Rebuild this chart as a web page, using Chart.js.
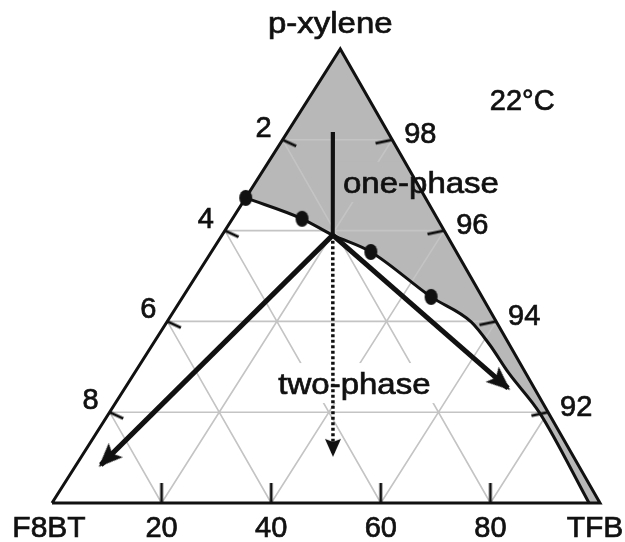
<!DOCTYPE html>
<html>
<head>
<meta charset="utf-8">
<script src="https://cdn.jsdelivr.net/npm/chart.js@4.4.1/dist/chart.umd.min.js"></script>
<style>
  html, body { margin: 0; padding: 0; background: #ffffff; }
  canvas { display: block; }
</style>
</head>
<body>
<canvas id="chart" width="625" height="542"></canvas>
<script>
// ================= DATA =================
// Compositions in wt%: TFB and p-xylene are given, F8BT = 100 - TFB - p-xylene.
const cornerNames = ['F8BT', 'TFB', 'p-xylene'];
const leftTickValues = [2, 4, 6, 8];        // F8BT wt% along F8BT / p-xylene edge
const rightTickValues = [98, 96, 94, 92];   // p-xylene wt% along TFB / p-xylene edge
const bottomTickValues = [20, 40, 60, 80];  // TFB share (%) along F8BT / TFB edge

// phase boundary (one-phase above / two-phase below)
const boundaryTFB = [0.00, 1.27, 2.02, 2.91, 4.53, 5.55, 6.16, 6.82, 7.86, 9.80];
const boundaryPX  = [96.72, 96.26, 95.90, 95.53, 94.54, 93.99, 93.48, 92.87, 91.98, 90.00];

// measured points on the boundary
const measuredTFB = [0.00, 1.27, 2.91, 4.53];
const measuredPX  = [96.72, 96.26, 95.53, 94.54];

// paths (start -> end)
const concentrateTFB = [0.83, 2.02];   const concentratePX = [98.17, 95.90];  // solid vertical line
const arrowLeftTFB   = [2.02, 0.45];   const arrowLeftPX   = [95.90, 90.84];
const arrowRightTFB  = [2.02, 6.99];   const arrowRightPX  = [95.90, 92.53];
const arrowDownTFB   = [2.02, 4.57];   const arrowDownPX   = [95.90, 91.06];

const regionLabels = ['one-phase', 'two-phase'];
const temperatureLabel = '22°C';

// ================= LAYOUT / STYLE =================
const APEX_X = 52.6;  // p-xylene corner position on the 0..100 bottom scale (figure is slightly skewed)
const FONT = '"Liberation Sans", Arial, Helvetica, sans-serif';
const GRID = '#c4c4c4';
const FILL = '#b8b8b8';
const INK = '#111111';
// annotation placement (chart units: x 0..100, y 0..10)
const annotPos = {
  'one-phase': { x: 53.1, y: 6.83, box: FILL },
  'two-phase': { x: 41.3, y: 2.40, box: '#ffffff' },
  '22°C':      { x: 85.8, y: 8.66 }
};

// ternary composition -> chart coordinates
function tern(tfb, px) {
  const c = (px - 90) / 10;   // 0 on bottom edge, 1 at p-xylene corner
  const b = tfb / 10;
  return { x: b * 100 + c * APEX_X, y: c * 10 };
}
const series = (t, p) => t.map((v, i) => tern(v, p[i]));
const BRK = { x: NaN, y: NaN };

const cF8BT = tern(0, 90), cTFB = tern(10, 90), cPX = tern(0, 100);

// lattice lines
const lattice = [];
rightTickValues.forEach(p => lattice.push(tern(0, p), tern(100 - p, p), BRK));               // constant p-xylene
leftTickValues.forEach(f => lattice.push(tern(0, 100 - f), tern(10 - f, 90), BRK));          // constant F8BT
bottomTickValues.forEach(s => { const t = s / 10; lattice.push(tern(t, 100 - t), tern(t, 90), BRK); }); // constant TFB

const boundary = series(boundaryTFB, boundaryPX);
const region = boundary.concat([cTFB, cPX]);

// ================= point-style images =================
function mk(w, h) { const c = document.createElement('canvas'); c.width = w; c.height = h; return c; }
function tickImg(len, w) {
  const c = mk(2 * len, 10); const g = c.getContext('2d');
  g.fillStyle = INK; g.fillRect(len, 5 - w / 2, len, w); return c;
}
function headImg(len, wid, notch, over) {
  const c = mk(2 * len + 10, Math.ceil(wid) + 4); const g = c.getContext('2d');
  const cx = c.width / 2 + over, cy = c.height / 2;
  g.fillStyle = INK; g.beginPath();
  g.moveTo(cx, cy); g.lineTo(cx - len, cy - wid / 2); g.lineTo(cx - len + notch, cy); g.lineTo(cx - len, cy + wid / 2);
  g.closePath(); g.fill(); return c;
}
function ellipseImg(w, h) {
  const c = mk(Math.ceil(w) + 2, Math.ceil(h) + 2); const g = c.getContext('2d');
  g.fillStyle = INK; g.beginPath(); g.ellipse(c.width / 2, c.height / 2, w / 2, h / 2, 0, 0, Math.PI * 2); g.fill(); return c;
}
const tickL = tickImg(15, 2.8), tickR = tickImg(17, 2.8), tickB = tickImg(20, 2.8);
const bigHead = headImg(24, 20, 5, 3), smallHead = headImg(18, 16, 3, 2);
const dotImg = ellipseImg(13, 16);

const pix = (chart, p) => ({ x: chart.scales.x.getPixelForValue(p.x), y: chart.scales.y.getPixelForValue(p.y) });
const arrowPaths = [[arrowLeftTFB, arrowLeftPX], [arrowRightTFB, arrowRightPX], [arrowDownTFB, arrowDownPX]];
function headAngle(ctx) {
  const path = arrowPaths[ctx.dataIndex] || arrowPaths[0];
  const a = pix(ctx.chart, tern(path[0][0], path[1][0])), b = pix(ctx.chart, tern(path[0][1], path[1][1]));
  const ang = Math.atan2(b.y - a.y, b.x - a.x) * 180 / Math.PI;
  return isFinite(ang) ? ang : 0;
}

const lineDS = (label, data, color, width, order, extra) => Object.assign({
  label, data, showLine: true, borderColor: color, borderWidth: width, pointRadius: 0,
  order, clip: false, fill: false, borderCapStyle: 'butt', borderJoinStyle: 'miter'
}, extra || {});

// ================= text plugin =================
function drawText(ctx, s, x, y, align, size, sx) {
  ctx.save();
  ctx.font = size + 'px ' + FONT; ctx.fillStyle = INK; ctx.strokeStyle = INK; ctx.lineWidth = 0.7;
  ctx.textBaseline = 'alphabetic';
  ctx.translate(x, y); ctx.scale(sx || 1, 1); ctx.textAlign = align;
  ctx.fillText(s, 0, 0); ctx.strokeText(s, 0, 0);
  ctx.restore();
}
function trianglePath(ctx, chart) {
  const a = pix(chart, cF8BT), b = pix(chart, cTFB), c = pix(chart, cPX);
  ctx.beginPath(); ctx.moveTo(a.x, a.y); ctx.lineTo(b.x, b.y); ctx.lineTo(c.x, c.y); ctx.closePath();
}
const WORD = 30, WORD_SX = 1.1, NUM = 29, CORNER = 30;

const ternaryText = {
  id: 'ternaryText',
  afterDatasetDraw(chart, args) {
    if (chart.data.datasets[args.index].label !== 'lattice') return;
    const ctx = chart.ctx;
    ctx.save();
    trianglePath(ctx, chart); ctx.clip();
    regionLabels.forEach(s => {
      const p = pix(chart, annotPos[s]);
      ctx.font = WORD + 'px ' + FONT;
      const w = ctx.measureText(s).width * WORD_SX;
      ctx.fillStyle = annotPos[s].box;
      ctx.fillRect(p.x - 5, p.y - 31, w + 10, 40);
    });
    ctx.restore();
  },
  afterDatasetsDraw(chart) {
    const ctx = chart.ctx;
    leftTickValues.forEach(f => { const p = pix(chart, tern(0, 100 - f)); drawText(ctx, String(f), p.x - 11, p.y - 3, 'right', NUM); });
    rightTickValues.forEach(v => { const p = pix(chart, tern(100 - v, v)); drawText(ctx, String(v), p.x + 12, p.y + 3.5, 'left', NUM); });
    bottomTickValues.forEach(s => { const p = pix(chart, tern(s / 10, 90)); drawText(ctx, String(s), p.x, p.y + 34, 'center', NUM); });
    const a = pix(chart, cF8BT), b = pix(chart, cTFB), c = pix(chart, cPX);
    drawText(ctx, cornerNames[0], a.x - 3, a.y + 34, 'center', CORNER);
    drawText(ctx, cornerNames[1], b.x - 5, b.y + 34, 'center', CORNER);
    drawText(ctx, cornerNames[2], c.x - 10, c.y - 16, 'center', WORD, WORD_SX);
    regionLabels.forEach(s => { const p = pix(chart, annotPos[s]); drawText(ctx, s, p.x, p.y, 'left', WORD, WORD_SX); });
    const t = pix(chart, annotPos[temperatureLabel]);
    drawText(ctx, temperatureLabel, t.x, t.y, 'center', NUM);
  }
};

// ================= chart =================
new Chart(document.getElementById('chart'), {
  type: 'scatter',
  data: {
    datasets: [
      lineDS('one-phase region', region, 'rgba(0,0,0,0)', 1, 10, { fill: 'shape', backgroundColor: FILL }),
      lineDS('lattice', lattice, GRID, 1.6, 9),
      lineDS('triangle', [cF8BT, cTFB, cPX, cF8BT], INK, 3, 8),
      lineDS('boundary', boundary, INK, 3, 6, { cubicInterpolationMode: 'monotone' }),
      lineDS('concentrate', series(concentrateTFB, concentratePX), INK, 4, 5),
      lineDS('dilute', series(arrowDownTFB, arrowDownPX), INK, 3.5, 5, { borderDash: [3, 2.5] }),
      lineDS('arrow left', series(arrowLeftTFB, arrowLeftPX), INK, 5, 5),
      lineDS('arrow right', series(arrowRightTFB, arrowRightPX), INK, 5, 5),
      { label: 'ticks left', data: leftTickValues.map(f => tern(0, 100 - f)), pointStyle: tickL, pointRadius: 5, pointRotation: 25, order: 4, clip: false },
      { label: 'ticks right', data: rightTickValues.map(v => tern(100 - v, v)), pointStyle: tickR, pointRadius: 5, pointRotation: 168, order: 4, clip: false },
      { label: 'ticks bottom', data: bottomTickValues.map(s => tern(s / 10, 90)), pointStyle: tickB, pointRadius: 5, pointRotation: -90, order: 4, clip: false },
      { label: 'heads', data: arrowPaths.map(p => tern(p[0][1], p[1][1])), pointStyle: [bigHead, bigHead, smallHead], pointRadius: 5, pointRotation: headAngle, order: 3, clip: false },
      { label: 'measured', data: series(measuredTFB, measuredPX), pointStyle: dotImg, pointRadius: 6, order: 2, clip: false }
    ]
  },
  options: {
    responsive: false,
    animation: false,
    events: [],
    devicePixelRatio: 1,
    layout: { padding: { left: 52, right: 25, top: 49, bottom: 39 } },
    scales: {
      x: { type: 'linear', min: 0, max: 100, display: false },
      y: { type: 'linear', min: 0, max: 10, display: false }
    },
    plugins: { legend: { display: false }, tooltip: { enabled: false }, title: { display: false } }
  },
  plugins: [ternaryText]
});
</script>
</body>
</html>
